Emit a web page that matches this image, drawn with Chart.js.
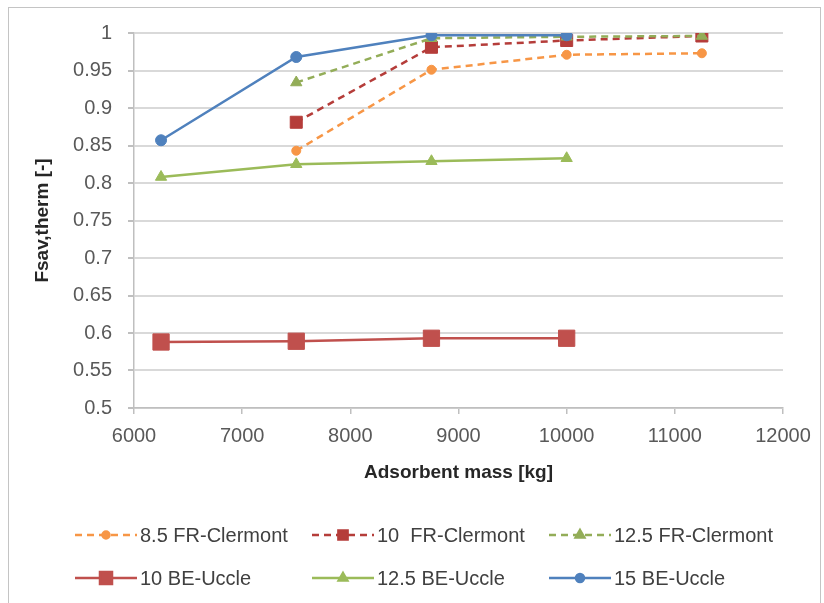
<!DOCTYPE html>
<html>
<head>
<meta charset="utf-8">
<script src="https://cdn.jsdelivr.net/npm/chart.js@4.4.1/dist/chart.umd.min.js"></script>
<style>
  html, body { margin: 0; padding: 0; background: #fff; overflow: hidden; }
  #wrap { position: relative; width: 824px; height: 603px; }
  #frame { position: absolute; left: 8px; top: 7px; width: 811px; height: 600px; border: 1px solid #c4c4c4; }
  #chart { position: absolute; left: 0; top: 0; }
</style>
</head>
<body>
<div id="wrap">
  <div id="frame"></div>
  <canvas id="chart" width="824" height="603"></canvas>
</div>
<script>
// Adsorbent mass (kg) for each location
const massFR = [7500, 8750, 10000, 11250];
const massBE = [6250, 7500, 8750, 10000];

// Fsav,therm per series
const fr85 = [0.843, 0.951, 0.971, 0.973];
const fr10 = [0.881, 0.981, 0.990, 0.996];
const fr125 = [0.934, 0.993, 0.995, 0.996];
const be10 = [0.588, 0.589, 0.593, 0.593];
const be125 = [0.808, 0.825, 0.829, 0.833];
const be15 = [0.857, 0.968, 0.997, 0.997];

const seriesLabels = ["8.5 FR-Clermont", "10  FR-Clermont", "12.5 FR-Clermont", "10 BE-Uccle", "12.5 BE-Uccle", "15 BE-Uccle"];

const xTicks = { min: 6000, max: 12000, step: 1000 };
const yTicks = { min: 0.5, max: 1, step: 0.05 };

function pts(xs, ys) {
  return xs.map((x, i) => ({ x: x, y: ys[i] }));
}

function series(i, xs, ys, color, dash, style, radius, legendRadius) {
  return {
    label: seriesLabels[i],
    data: pts(xs, ys),
    borderColor: color,
    backgroundColor: color,
    borderWidth: 2.5,
    borderDash: dash,
    pointStyle: style,
    pointRadius: radius,
    pointHoverRadius: radius,
    pointBackgroundColor: color,
    pointBorderColor: color,
    pointBorderWidth: 1,
    legendRadius: legendRadius,
    order: 6 - i, // later series drawn on top
  };
}

const dashed = [7, 5];

// Legend laid out in two rows of three, like the spreadsheet one
const rowLegend = {
  id: "rowLegend",
  afterDraw(chart) {
    const ctx = chart.ctx;
    chart.data.datasets.forEach((ds, i) => {
      const x0 = 75 + (i % 3) * 237;
      const y = 535 + Math.floor(i / 3) * 43;
      ctx.save();
      ctx.strokeStyle = ds.borderColor;
      ctx.lineWidth = ds.borderWidth;
      ctx.setLineDash(ds.borderDash || []);
      ctx.beginPath();
      ctx.moveTo(x0, y);
      ctx.lineTo(x0 + 62, y);
      ctx.stroke();
      ctx.setLineDash([]);
      ctx.fillStyle = ds.pointBackgroundColor;
      ctx.strokeStyle = ds.pointBorderColor;
      Chart.helpers.drawPoint(ctx, { pointStyle: ds.pointStyle, radius: ds.legendRadius, borderWidth: 1, rotation: 0 }, x0 + 31, y);
      ctx.fillStyle = "#404040";
      ctx.font = "20px 'Liberation Sans', Arial, sans-serif";
      ctx.textBaseline = "middle";
      ctx.textAlign = "left";
      ctx.fillText(ds.label, x0 + 65, y + 1);
      ctx.restore();
    });
  },
};

const tickFont = { family: "'Liberation Sans', Arial, sans-serif", size: 20 };
const titleFont = { family: "'Liberation Sans', Arial, sans-serif", size: 19, weight: "bold" };

const ctx = document.getElementById("chart").getContext("2d");
const chart = new Chart(ctx, {
  type: "line",
  data: {
    datasets: [
      series(0, massFR, fr85, "#f79646", dashed, "circle", 4.5, 3.5),
      series(1, massFR, fr10, "#b53d3a", dashed, "rect", 8.5, 6.5),
      series(2, massFR, fr125, "#93ad58", dashed, "triangle", 6.5, 5),
      series(3, massBE, be10, "#c0504d", [], "rect", 11.5, 8.5),
      series(4, massBE, be125, "#9bbb59", [], "triangle", 6.5, 5),
      series(5, massBE, be15, "#4f81bd", [], "circle", 5.5, 4),
    ],
  },
  options: {
    responsive: false,
    animation: false,
    layout: { padding: { left: 0, top: 33, right: 41, bottom: 110 } },
    plugins: {
      legend: { display: false },
      tooltip: { enabled: false },
    },
    scales: {
      x: {
        type: "linear",
        min: xTicks.min,
        max: xTicks.max,
        afterFit: (s) => { s.height = 85; },
        ticks: {
          stepSize: xTicks.step,
          font: tickFont,
          color: "#595959",
          padding: 10,
          maxRotation: 0,
          callback: (v) => String(v),
        },
        grid: { drawOnChartArea: false, drawTicks: true, tickLength: 6, color: "#bfbfbf", lineWidth: 1.5 },
        border: { color: "#bfbfbf", width: 1.5 },
        title: { display: true, text: "Adsorbent mass [kg]", font: titleFont, color: "#262626", padding: { top: 0, bottom: 9 } },
      },
      y: {
        min: yTicks.min,
        max: yTicks.max,
        afterFit: (s) => { s.width = 134; },
        ticks: {
          stepSize: yTicks.step,
          font: tickFont,
          color: "#595959",
          padding: 16,
          callback: (v) => String(parseFloat(v.toFixed(2))),
        },
        grid: { color: "#d9d9d9", lineWidth: 2, tickLength: 6, tickColor: "#bfbfbf" },
        border: { color: "#bfbfbf", width: 1.5 },
        title: { display: true, text: "Fsav,therm [-]", font: titleFont, color: "#262626", padding: { top: 31, bottom: 0 } },
      },
    },
  },
  plugins: [rowLegend],
});
</script>
</body>
</html>
